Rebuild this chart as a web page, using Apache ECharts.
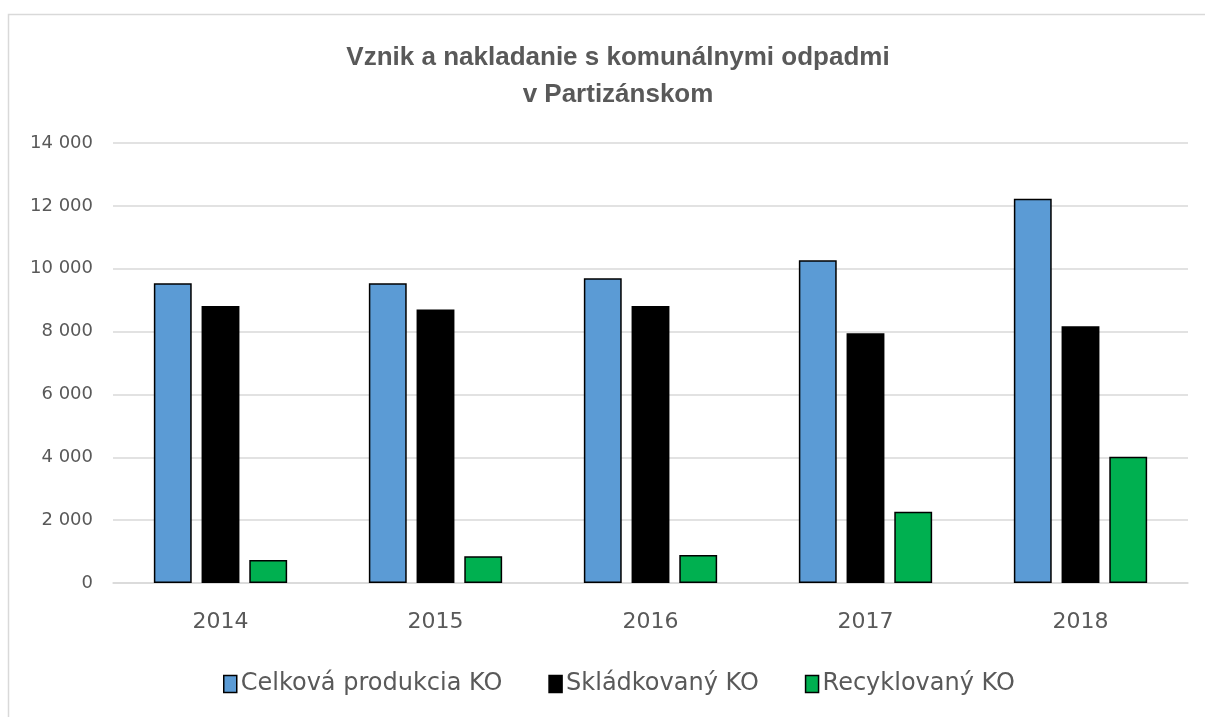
<!DOCTYPE html>
<html>
<head>
<meta charset="utf-8">
<script src="https://cdn.jsdelivr.net/npm/echarts@6/dist/echarts.min.js"></script>
<style>
html, body { margin: 0; padding: 0; background: #fff; }
#chart { width: 1205px; height: 717px; }
</style>
</head>
<body>
<div id="chart"></div>
<script>
// roky a hodnoty (t)
const years = ['2014', '2015', '2016', '2017', '2018'];
const celkova = [9540, 9540, 9700, 10270, 12230];
const skladkovany = [8810, 8700, 8810, 7950, 8170];
const recyklovany = [730, 850, 890, 2270, 4020];
const seriesNames = ['Celková produkcia KO', 'Skládkovaný KO', 'Recyklovaný KO'];

const textColor = '#595959';
const font = 'DejaVu Sans';

function fmt(v) {
    return String(v).replace(/\B(?=(\d{3})+(?!\d))/g, ' ');
}

function bar(name, data, color) {
    return {
        name: name,
        type: 'bar',
        data: data,
        barGap: '26%',
        barCategoryGap: '38%',
        itemStyle: { color: color, borderColor: '#000', borderWidth: 1.5 },
    };
}

const chart = echarts.init(document.getElementById('chart'));
chart.setOption({
    animation: false,
    backgroundColor: '#fff',
    graphic: [{
        type: 'rect',
        shape: { x: 8.5, y: 14.5, width: 1220, height: 720 },
        style: { fill: 'none', stroke: '#d9d9d9', lineWidth: 1.5 },
    }],
    title: {
        text: 'Vznik a nakladanie s komunálnymi odpadmi\nv Partizánskom',
        left: 613,
        textAlign: 'center',
        top: 34,
        textStyle: {
            color: textColor,
            fontFamily: 'Liberation Sans',
            fontSize: 26,
            fontWeight: 'bold',
            lineHeight: 37,
        },
    },
    legend: {
        data: seriesNames,
        left: 218,
        top: 667,
        itemWidth: 13,
        itemHeight: 17,
        itemGap: 46,
        icon: 'rect',
        itemStyle: { borderColor: '#000', borderWidth: 1.5 },
        textStyle: { color: textColor, fontFamily: font, fontSize: 24, padding: [0, 0, 0, -1] },
    },
    grid: { left: 113, right: 17, top: 143, bottom: 134 },
    xAxis: {
        type: 'category',
        data: years,
        axisLine: { lineStyle: { color: '#d9d9d9', width: 1.5 } },
        axisTick: { show: false },
        axisLabel: { color: textColor, fontFamily: font, fontSize: 22, margin: 28 },
    },
    yAxis: {
        type: 'value',
        min: 0,
        max: 14000,
        interval: 2000,
        axisLine: { show: false },
        axisTick: { show: false },
        splitLine: { lineStyle: { color: '#d9d9d9', width: 1.5 } },
        axisLabel: { color: textColor, fontFamily: font, fontSize: 18, margin: 20, padding: [9, 0, 0, 0], formatter: fmt },
    },
    series: [
        bar(seriesNames[0], celkova, '#5b9bd5'),
        bar(seriesNames[1], skladkovany, '#000000'),
        bar(seriesNames[2], recyklovany, '#00b050'),
    ],
});
</script>
</body>
</html>
